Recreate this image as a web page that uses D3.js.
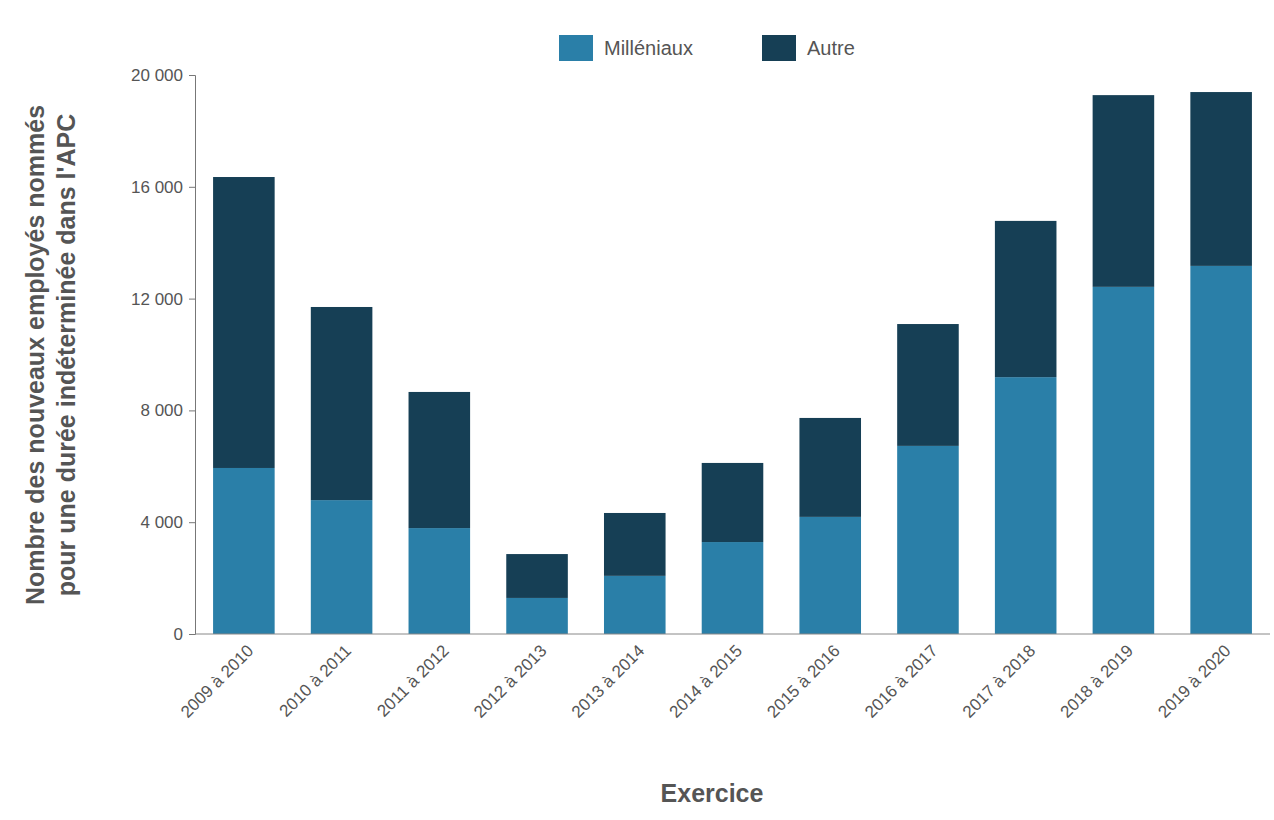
<!DOCTYPE html>
<html><head><meta charset="utf-8">
<script src="https://cdn.jsdelivr.net/npm/d3@7"></script>
<style>body{margin:0;background:#fff}text{font-family:"Liberation Sans",Arial,sans-serif;fill:#555}</style>
</head><body><svg width="1274" height="820"></svg>
<script>
var years = ['2009 à 2010','2010 à 2011','2011 à 2012','2012 à 2013','2013 à 2014','2014 à 2015','2015 à 2016','2016 à 2017','2017 à 2018','2018 à 2019','2019 à 2020'];
var milleniaux = [5940, 4790, 3790, 1290, 2080, 3290, 4190, 6730, 9190, 12420, 13170];
var autre = [10410, 6910, 4870, 1570, 2250, 2830, 3540, 4360, 5590, 6860, 6220];
var yTicks = [0, 4000, 8000, 12000, 16000, 20000];
var colors = ['#2a7fa8', '#163f55'];
var names = ['Milléniaux', 'Autre'];

var svg = d3.select('svg');
var x = d3.scaleBand().domain(years).range([195, 1270]).paddingInner(0.37).paddingOuter(0.185);
var y = d3.scaleLinear().domain([0, 20000]).range([634, 75]);
var fmt = function(d) { return d3.format(',')(d).replace(',', ' '); };

var data = years.map(function(yr, i) { return {yr: yr, m: milleniaux[i], a: autre[i]}; });
var stack = d3.stack().keys(['m', 'a'])(data);
svg.selectAll('g.s').data(stack).enter().append('g').attr('fill', function(d, i) { return colors[i]; })
  .selectAll('rect').data(function(d) { return d; }).enter().append('rect')
  .attr('x', function(d) { return x(d.data.yr); }).attr('width', x.bandwidth())
  .attr('y', function(d) { return y(d[1]); }).attr('height', function(d) { return y(d[0]) - y(d[1]); });

var ya = svg.append('g').attr('transform', 'translate(195,0)')
  .call(d3.axisLeft(y).tickValues(yTicks).tickFormat(fmt).tickSize(6).tickPadding(6));
ya.selectAll('text').style('font-size', '17px');
ya.selectAll('line,path').attr('stroke', '#777');

var xa = svg.append('g').attr('transform', 'translate(0,634)').call(d3.axisBottom(x).tickSize(0).tickPadding(10));
xa.select('path').attr('stroke', '#888').attr('d', 'M195,0H1270');
xa.selectAll('text').style('font-size', '17px').attr('text-anchor', 'end')
  .attr('transform', 'rotate(-45)').attr('dx', '-0.3em').attr('dy', '0.6em');

svg.append('text').attr('x', 712).attr('y', 802).attr('text-anchor', 'middle')
  .style('font-size', '25px').style('font-weight', 'bold').text('Exercice');
var yt = svg.append('text').attr('transform', 'translate(44,355) rotate(-90)').attr('text-anchor', 'middle')
  .style('font-size', '25px').style('font-weight', 'bold');
yt.append('tspan').attr('x', 0).attr('y', 0).text('Nombre des nouveaux employés nommés');
yt.append('tspan').attr('x', 0).attr('y', 31).text("pour une durée indéterminée dans l'APC");

var lx = [559, 762];
names.forEach(function(n, i) {
  svg.append('rect').attr('x', lx[i]).attr('y', 35).attr('width', 34).attr('height', 26).attr('fill', colors[i]);
  svg.append('text').attr('x', lx[i] + 45).attr('y', 55).style('font-size', '20px').text(n);
});
</script></body></html>
